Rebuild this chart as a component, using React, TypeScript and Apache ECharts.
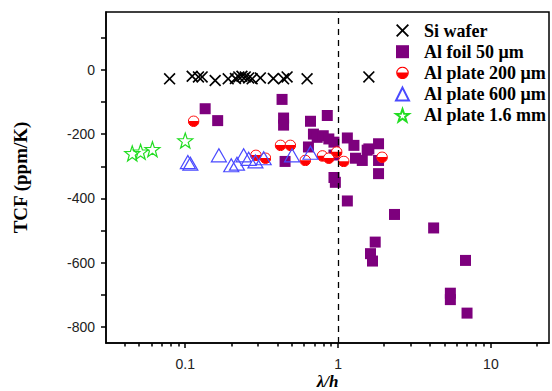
import React, { useEffect, useRef } from "react";
import * as echarts from "echarts";

// ---- data (x = λ/h, y = TCF in ppm/K) ----
const siX = [0.079, 0.111, 0.122, 0.129, 0.157, 0.191, 0.213, 0.224, 0.235, 0.247, 0.26, 0.274, 0.31, 0.377, 0.44, 0.464, 0.627, 1.59];
const siY = [-28, -20, -22, -22, -33, -28, -27, -22, -20, -22, -25, -28, -25, -27, -28, -22, -28, -22];

const foilX = [0.135, 0.163, 0.43, 0.44, 0.44, 0.45, 0.64, 0.66, 0.69, 0.73, 0.8, 0.85, 0.87, 0.94, 0.94, 0.94, 0.96, 1.15, 1.15, 1.27, 1.3, 1.44, 1.55, 1.59, 1.75, 1.63, 1.68, 1.84, 1.84, 1.84, 2.34, 4.22, 5.43, 5.43, 6.82, 6.98];
const foilY = [-121, -158, -92, -150, -172, -285, -240, -160, -200, -210, -205, -142, -215, -225, -265, -335, -350, -212, -408, -235, -275, -282, -250, -246, -536, -572, -595, -230, -282, -323, -450, -492, -695, -715, -593, -757];

const p200X = [0.1135, 0.29, 0.335, 0.42, 0.487, 0.61, 0.79, 0.87, 0.98, 1.09, 1.94];
const p200Y = [-160, -266, -275, -235, -235, -282, -268, -275, -256, -285, -272];

const p600X = [0.104, 0.108, 0.166, 0.2, 0.218, 0.241, 0.26, 0.288, 0.326, 0.5, 0.66];
const p600Y = [-287, -292, -266, -297, -292, -266, -277, -285, -275, -266, -258];

const p16X = [0.045, 0.051, 0.061, 0.1];
const p16Y = [-260, -255, -247, -220];

const seriesNames = ["Si wafer", "Al foil 50 \u03bcm", "Al plate 200 \u03bcm", "Al plate 600 \u03bcm", "Al plate 1.6 mm"];

const yTicks = [100, 0, -100, -200, -300, -400, -500, -600, -700, -800];
const yLabels = [0, -200, -400, -600, -800];
const xMajor = [0.1, 1, 10];
const xMinor = [0.04, 0.05, 0.06, 0.07, 0.08, 0.09, 0.2, 0.3, 0.4, 0.5, 0.6, 0.7, 0.8, 0.9, 2, 3, 4, 5, 6, 7, 8, 9, 20];
const X_MIN = 0.0303;
const X_MAX = 24;
const Y_MIN = -850;
const Y_MAX = 180;

const lg = (v: number) => Math.log10(v);
const pts = (xs: number[], ys: number[]) => xs.map((x, i) => [lg(x), ys[i]]);

const crossPath = "path://M0,1 L1,0 L5,4 L9,0 L10,1 L6,5 L10,9 L9,10 L5,6 L1,10 L0,9 L4,5 Z";
const starPath = "path://M0,-10 L2.35,-3.24 L9.51,-3.09 L3.8,1.24 L5.88,8.09 L0,4 L-5.88,8.09 L-3.8,1.24 L-9.51,-3.09 L-2.35,-3.24 Z";
const halfSvg =
  "<svg xmlns='http://www.w3.org/2000/svg' width='24' height='24' viewBox='0 0 24 24'>" +
  "<circle cx='12' cy='12' r='10.6' fill='white' stroke='#ff0000' stroke-width='2'/>" +
  "<path d='M1.4 11.4 A10.6 10.6 0 0 0 22.6 11.4 Z' fill='#ff0000'/></svg>";
const halfSymbol = "image://data:image/svg+xml;charset=utf-8," + encodeURIComponent(halfSvg);

export default function App() {
  const ref = useRef<HTMLDivElement>(null);
  useEffect(() => {
    if (!ref.current) return;
    const chart = echarts.init(ref.current, null, { renderer: "svg" });
    const serif = "'Liberation Serif', 'Times New Roman', serif";
    const sans = "'Liberation Sans', Arial, sans-serif";
    chart.setOption({
      animation: false,
      backgroundColor: "#fff",
      grid: {
        left: 106,
        right: 3,
        top: 12,
        bottom: 48,
        outerBoundsMode: "none",
        containLabel: false,
        show: true,
        borderColor: "#000",
        borderWidth: 1.5,
        backgroundColor: "transparent",
      },
      legend: {
        orient: "vertical",
        left: 395,
        top: 21.5,
        padding: 0,
        itemWidth: 13,
        itemHeight: 13,
        itemGap: 3.2,
        data: seriesNames,
        textStyle: {
          fontFamily: serif,
          fontWeight: "bold",
          fontSize: 18,
          lineHeight: 14,
          color: "#000",
          padding: [0, 0, 0, 10],
        },
        selectedMode: false,
      },
      xAxis: [
        {
          type: "value",
          min: lg(X_MIN),
          max: lg(X_MAX),
          name: "\u03bb/h",
          nameLocation: "middle",
          nameGap: 30,
          nameMoveOverlap: false,
          nameTextStyle: {
            fontFamily: serif,
            fontWeight: "bold",
            fontStyle: "italic",
            fontSize: 17,
            lineHeight: 17,
            color: "#000",
          },
          axisLine: { show: true, onZero: false, lineStyle: { color: "#000", width: 1.5 } },
          splitLine: { show: false },
          axisTick: {
            show: true,
            inside: false,
            length: 5,
            customValues: xMajor.map(lg),
            lineStyle: { color: "#000", width: 1.5 },
          },
          axisLabel: {
            customValues: xMajor.map(lg),
            formatter: (v: number) => {
              const r = Math.pow(10, v);
              return r < 1 ? r.toFixed(1) : String(Math.round(r));
            },
            fontFamily: sans,
            fontSize: 14,
            color: "#222",
            margin: 14,
          },
        },
        {
          type: "value",
          min: lg(X_MIN),
          max: lg(X_MAX),
          position: "bottom",
          axisLine: { show: false, onZero: false },
          splitLine: { show: false },
          axisLabel: { show: false },
          axisTick: {
            show: true,
            length: 3.5,
            customValues: xMinor.map(lg),
            lineStyle: { color: "#000", width: 1.5 },
          },
        },
      ],
      yAxis: {
        type: "value",
        min: Y_MIN,
        max: Y_MAX,
        name: "TCF (ppm/K)",
        nameLocation: "middle",
        nameGap: 76,
        nameMoveOverlap: false,
        nameTextStyle: { fontFamily: serif, fontWeight: "bold", fontSize: 19, color: "#000" },
        axisLine: { show: true, onZero: false, lineStyle: { color: "#000", width: 1.5 } },
        splitLine: { show: false },
        axisTick: {
          show: true,
          length: 5,
          customValues: yTicks,
          lineStyle: { color: "#000", width: 1.5 },
        },
        axisLabel: {
          customValues: yLabels,
          fontFamily: sans,
          fontSize: 14,
          color: "#222",
          margin: 11,
        },
      },
      series: [
        {
          name: seriesNames[0],
          type: "scatter",
          symbol: crossPath,
          symbolSize: 12,
          itemStyle: { color: "#000", opacity: 1 },
          data: pts(siX, siY),
          markLine: {
            silent: true,
            symbol: "none",
            label: { show: false },
            lineStyle: { color: "#000", type: [6, 5], width: 1.3 },
            data: [{ xAxis: 0 }],
          },
        },
        {
          name: seriesNames[1],
          type: "scatter",
          symbol: "rect",
          symbolSize: 11,
          itemStyle: { color: "#7d007d", opacity: 1 },
          data: pts(foilX, foilY),
        },
        {
          name: seriesNames[2],
          type: "scatter",
          symbol: halfSymbol,
          symbolSize: 12,
          itemStyle: { color: "#ff0000", opacity: 1 },
          data: pts(p200X, p200Y),
        },
        {
          name: seriesNames[3],
          type: "scatter",
          symbol: "triangle",
          symbolSize: [15, 13],
          itemStyle: { color: "rgba(0,0,0,0)", borderColor: "#4a4aff", borderWidth: 1.2, opacity: 1 },
          data: pts(p600X, p600Y),
        },
        {
          name: seriesNames[4],
          type: "scatter",
          symbol: starPath,
          symbolSize: 15,
          itemStyle: { color: "rgba(0,0,0,0)", borderColor: "#22dd22", borderWidth: 1.2, opacity: 1 },
          data: pts(p16X, p16Y),
        },
      ],
    });
    return () => chart.dispose();
  }, []);
  return (
    <div
      ref={ref}
      style={{ position: "fixed", left: 0, top: 0, width: 552, height: 391, background: "#fff" }}
    />
  );
}
